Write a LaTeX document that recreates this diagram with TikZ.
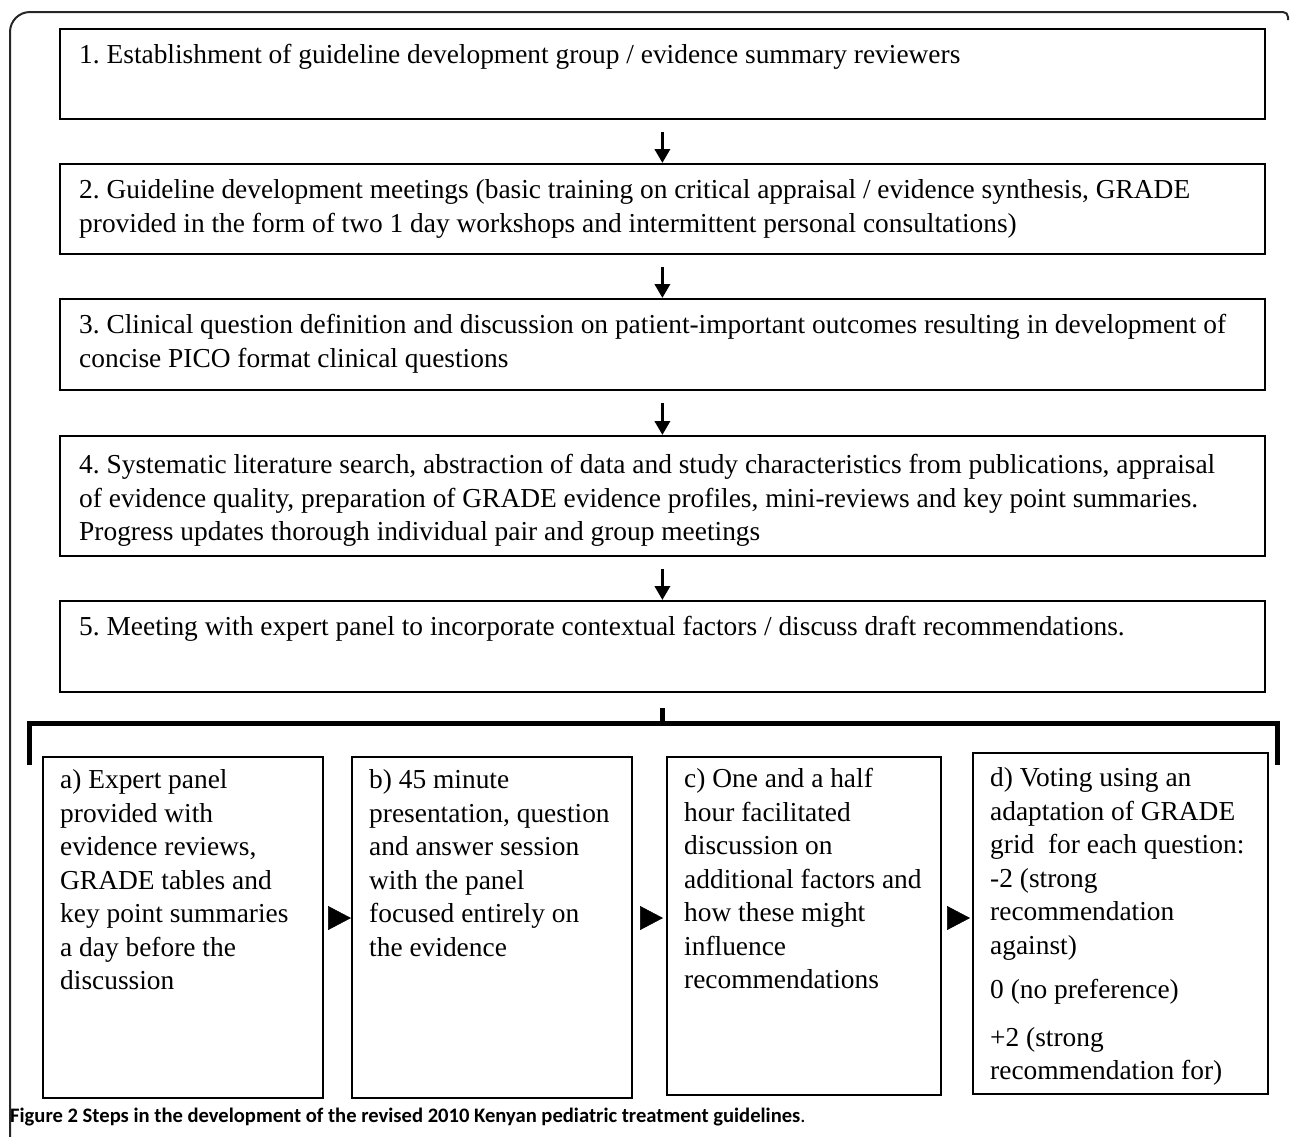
\documentclass[tikz,border=0pt]{standalone}
\usepackage{fontspec}
\setmainfont{Liberation Serif}
\newfontfamily\capfont{Carlito}
\usetikzlibrary{arrows.meta,calc}
\begin{document}
\frenchspacing
\begin{tikzpicture}[x=1pt,y=-1pt,
  box/.style={draw,line width=1.8pt,inner sep=0pt,anchor=north west},
  txt/.style={anchor=north west,inner sep=0pt,align=left,font=\fontsize{27.4}{33.5}\selectfont},
  downarr/.style={line width=3.5pt,-{Triangle[length=14pt 0 0,width=15pt 0]}},
  tri/.style={white,line width=0.5pt,shorten <=2pt,-{Triangle[color=black,length=23pt 0 0,width=24pt 0]}},
  brk/.style={line width=5pt,line join=miter},
  frame/.style={line width=2pt,black!85}]
\useasboundingbox (0,0) rectangle (1290,1136);
% outer frame
\draw[frame] (10,1150) [rounded corners=20pt]-- (10,12) [rounded corners=5pt]-- (1288,12) -- (1288,20);
% top boxes
\node[box,minimum width=1205pt,minimum height=90pt] (b1) at (59,28) {};
\node[box,minimum width=1205pt,minimum height=90pt] (b2) at (59,163) {};
\node[box,minimum width=1205pt,minimum height=91pt] (b3) at (59,298) {};
\node[box,minimum width=1205pt,minimum height=120pt] (b4) at (59,435) {};
\node[box,minimum width=1205pt,minimum height=91pt] (b5) at (59,600) {};
\node[txt] (t1) at (79,40) {\strut 1. Establishment of guideline development group / evidence summary reviewers};
\node[txt] (t2) at (79,175) {\strut 2. Guideline development meetings (basic training on critical appraisal / evidence synthesis, GRADE\\provided in the form of two 1 day workshops and intermittent personal consultations)};
\node[txt] (t3) at (79,310) {\strut 3. Clinical question definition and discussion on patient-important outcomes resulting in development of\\concise PICO format clinical questions};
\node[txt] (t4) at (79,450) {\strut 4. Systematic literature search, abstraction of data and study characteristics from publications, appraisal\\of evidence quality, preparation of GRADE evidence profiles, mini-reviews and key point summaries.\\Progress updates thorough individual pair and group meetings};
\node[txt] (t5) at (79,612) {\strut 5. Meeting with expert panel to incorporate contextual factors / discuss draft recommendations.};
% arrows between top boxes
\draw[downarr] ([yshift=-12pt]b1.south) -- (b2.north);
\draw[downarr] ([yshift=-12pt]b2.south) -- (b3.north);
\draw[downarr] ([yshift=-12pt]b3.south) -- (b4.north);
\draw[downarr] ([yshift=-12pt]b4.south) -- (b5.north);
% bracket
\coordinate (bl) at (29,765);
\coordinate (br) at (1277,765);
\draw[brk] ([yshift=-15pt]b5.south) -- (b5.south |- 0,723);
\draw[brk] (bl) -- (bl |- 0,723) -- (br |- 0,723) -- (br);
% bottom boxes
\node[box,minimum width=280pt,minimum height=341pt] (ba) at (42,756) {};
\node[box,minimum width=280pt,minimum height=341pt] (bb) at (351,756) {};
\node[box,minimum width=274pt,minimum height=338pt] (bc) at (666,756) {};
\node[box,minimum width=295pt,minimum height=341pt] (bd) at (972,752) {};
\node[txt] (ta) at (60,765) {\strut a) Expert panel\\provided with\\evidence reviews,\\GRADE tables and\\key point summaries\\a day before the\\discussion};
\node[txt] (tb) at (369,765) {\strut b) 45 minute\\presentation, question\\and answer session\\with the panel\\focused entirely on\\the evidence};
\node[txt] (tc) at (684,764) {\strut c) One and a half\\hour facilitated\\discussion on\\additional factors and\\how these might\\influence\\recommendations};
\node[txt] (td) at (990,763) {\strut d) Voting using an\\adaptation of GRADE\\grid\ \ for each question:\\-2 (strong\\recommendation\\against)\\[11pt]0 (no preference)\\[14pt]+2 (strong\\recommendation for)};
% triangles
\draw[tri] (ba.east |- 0,918) -- (bb.west |- 0,918);
\draw[tri] (bb.east |- 0,918) -- ([xshift=-3pt]bc.west |- 0,918);
\draw[tri] (bc.east |- 0,918) -- ([xshift=-2pt]bd.west |- 0,918);
% caption
\node[anchor=west,inner sep=0pt,font=\capfont\fontsize{20.6}{24}\selectfont] (cap) at (10,1117) {\textbf{Figure 2 Steps in the development of the revised 2010 Kenyan pediatric treatment guidelines}.};
\end{tikzpicture}
\end{document}
